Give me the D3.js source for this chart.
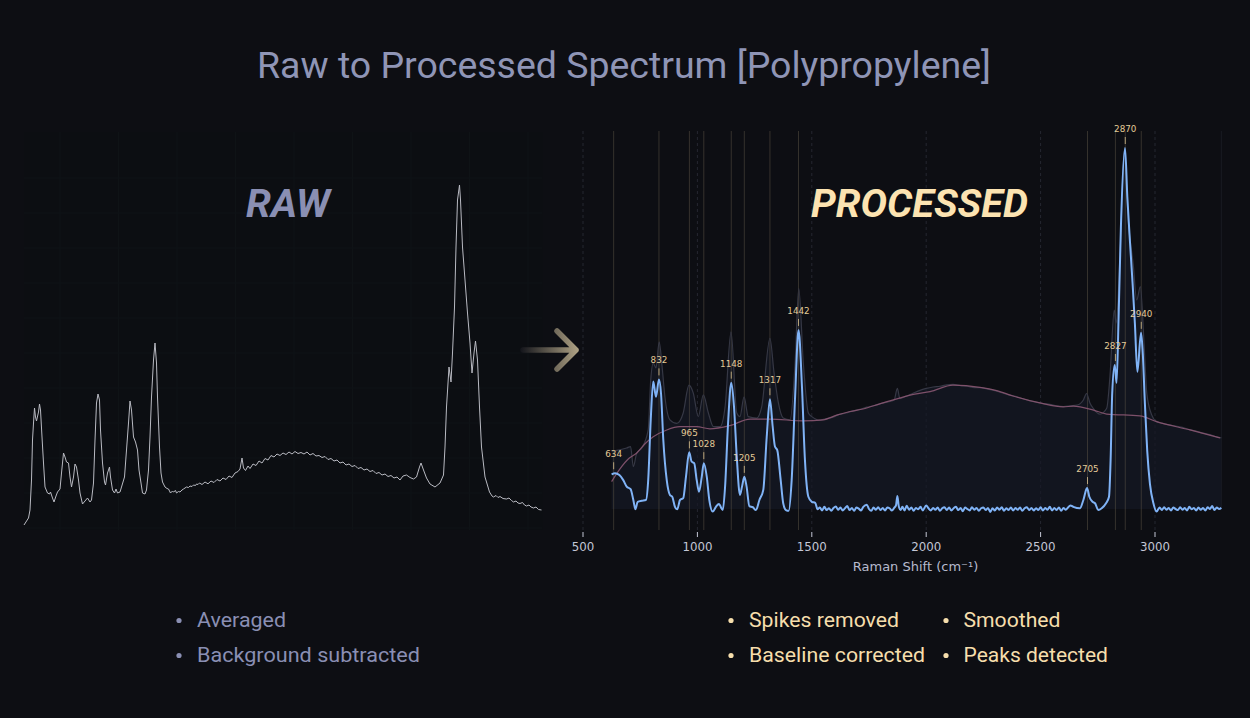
<!DOCTYPE html>
<html><head><meta charset="utf-8">
<script src="https://cdn.jsdelivr.net/npm/d3@7"></script>
<style>
html,body{margin:0;padding:0;background:#0d0e13;}
svg{display:block;}
</style></head>
<body>
<svg id="c" width="1250" height="718"></svg>
<script>
// ---------------- DATA ----------------
// Raw spectrum: [detector channel, counts]
const rawSpectrum = [
[0,50],[9,120],[12,200],[15,500],[17,900],[19,1070],[21,1220],[23,1130],[25,1090],[29,1180],[31,1260],[33,1200],[36,930],[39,670],[42,430],[47,370],[51,360],[53,380],[57,320],[60,280],[64,340],[67,380],[72,410],[75,570],[79,770],[82,730],[85,680],[89,670],[92,530],[95,430],[99,530],[102,660],[105,630],[109,500],[112,370],[117,260],[122,290],[127,320],[132,280],[135,300],[139,470],[142,900],[145,1270],[148,1360],[151,1300],[153,1000],[157,670],[161,480],[163,450],[167,570],[171,630],[173,530],[177,400],[181,370],[184,410],[187,370],[192,380],[195,430],[201,530],[205,800],[209,1070],[212,1290],[215,1200],[219,930],[223,880],[227,800],[230,600],[234,470],[237,370],[242,360],[245,400],[249,600],[252,930],[255,1330],[259,1700],[262,1870],[265,1670],[267,1330],[271,830],[274,570],[277,480],
[282,430],[286,415],[289,410],[293,370],[297,390],[299,380],[303,395],[305,370],[309,385],[312,380],[316,400],[319,410],[322,420],[325,430],[329,425],[332,440],[336,435],[339,450],[343,445],[345,460],[348,455],[351,470],
[356,455],[362,480],[368,462],[374,490],[380,475],[386,505],[392,490],[398,520],[404,505],[410,540],[416,525],[422,570],[428,585],[432,610],[436,720],[439,620],[443,595],[448,640],[452,615],[458,660],[464,645],[470,690],[476,670],[482,715],[488,700],[494,745],[500,730],[506,760],[512,745],[518,770],[524,755],[530,780],[536,760],[542,785],[548,765],[554,775],[560,760],[566,780],[572,750],[578,765],[584,740],[590,745],[596,725],[602,735],[608,705],[614,715],[620,690],[626,700],[632,670],[638,680],[644,650],[650,660],[656,635],[662,645],[668,615],[674,625],[680,600],[686,610],[692,585],[698,595],[704,565],[710,575],[716,550],[722,560],[728,535],[734,545],[740,520],[746,530],[752,500],[758,540],[765,550],[772,525],[779,510],[785,530],[791,630],[794,670],[799,600],[805,520],[812,460],[822,430],[832,470],[839,550],
[842,830],[845,1230],[850,1630],[854,1480],[857,1770],[861,2230],[864,2830],[867,3300],[871,3450],[873,3300],[877,2830],[882,2500],[887,2170],[892,1870],[896,1570],[900,1770],[903,1890],[907,1700],[911,1230],[915,830],[922,530],[931,380],
[936,340],[939,330],[944,345],[948,325],[952,335],[958,315],[965,310],[970,320],[975,295],[979,280],[984,290],[988,270],[992,265],[997,275],[1001,250],[1005,240],[1010,250],[1014,230],[1019,220],[1024,230],[1029,205],[1035,200]
];

// Processed (spikes removed, smoothed, baseline corrected, normalised): [Raman shift, intensity]
const processedSpectrum = [
[625,0.096],[640,0.099],[659,0.094],[676,0.080],[691,0.062],[708,0.055],[720,0.025],[729,-0.001],[739,0.020],[757,0.023],[775,0.025],[785,0.080],[796,0.247],[807,0.353],[819,0.311],[832,0.359],[841,0.320],[851,0.191],[866,0.080],[880,0.039],[890,0.034],[902,0.006],[912,-0.001],[924,0.025],[938,0.030],[950,0.089],[964,0.157],[975,0.131],[986,0.127],[997,0.080],[1007,0.048],[1019,0.089],[1028,0.127],[1041,0.089],[1052,0.025],[1067,-0.007],[1081,0.006],[1094,0.014],[1111,-0.003],[1121,0.062],[1134,0.237],[1148,0.350],[1160,0.283],[1172,0.145],[1186,0.039],[1195,0.062],[1205,0.089],[1215,0.062],[1227,0.008],[1242,0.005],[1256,-0.003],[1271,0.025],[1288,0.053],[1303,0.200],[1317,0.304],[1329,0.228],[1339,0.173],[1349,0.163],[1364,0.080],[1375,0.016],[1387,-0.003],[1399,-0.005],[1412,0.080],[1427,0.311],[1442,0.496],[1457,0.339],[1470,0.136],[1485,0.034],[1500,0.020],[1515,0.017],[1525,-0.001],
[1535,0.004],[1545,-0.004],[1555,0.006],[1565,-0.003],[1575,0.002],[1585,-0.005],[1595,0.003],[1605,0.007],[1615,-0.002],[1625,0.004],[1635,-0.004],[1645,0.002],[1655,0.008],[1665,-0.003],[1675,0.003],[1685,-0.005],[1695,0.004],[1705,0.001],[1715,-0.004],[1725,0.006],[1740,0.012],[1750,0.000],[1760,-0.005],[1770,0.004],[1780,-0.002],[1790,0.005],[1800,-0.003],[1810,0.003],[1820,-0.004],[1830,0.004],[1840,0.002],[1850,-0.004],[1860,0.003],[1868,0.010],[1874,0.036],[1880,0.008],[1888,-0.003],[1896,0.006],[1905,-0.004],[1915,0.009],[1925,-0.002],[1935,0.004],[1945,-0.005],[1955,0.003],[1965,-0.001],[1975,0.006],[1985,-0.004],[2000,0.010],[2010,0.002],[2020,-0.004],[2030,0.003],[2040,-0.002],[2050,0.004],[2060,-0.005],[2070,0.002],[2080,0.005],[2090,-0.003],[2100,0.004],[2110,-0.004],[2120,0.002],[2130,0.006],[2140,-0.003],[2150,0.003],[2160,-0.006],[2170,0.004],[2180,0.000],[2190,-0.004],[2200,0.005],[2210,-0.002],[2220,0.003],[2230,-0.005],[2240,0.002],[2250,0.004],[2260,-0.003],[2270,0.003],[2280,-0.008],[2290,0.002],[2300,-0.004],[2310,0.004],[2320,-0.002],[2330,0.005],[2340,-0.005],[2350,0.002],[2360,-0.003],[2370,0.004],[2380,-0.004],[2390,0.003],[2400,-0.002],[2410,0.004],[2420,-0.005],[2430,0.002],[2440,0.005],[2450,-0.003],[2460,0.003],[2470,-0.004],[2480,0.002],[2490,-0.003],[2500,0.005],[2510,-0.004],[2520,0.003],[2530,-0.002],[2540,0.006],[2550,-0.004],[2560,0.003],[2570,-0.003],[2580,0.004],[2590,-0.005],[2600,0.003],[2610,-0.002],[2620,0.004],[2630,0.010],[2643,0.006],
[2672,0.002],[2687,0.025],[2703,0.058],[2713,0.034],[2727,0.020],[2738,0.016],[2752,-0.003],[2767,0.002],[2786,0.016],[2799,0.034],[2806,0.136],[2813,0.321],[2824,0.399],[2832,0.349],[2841,0.533],[2851,0.782],[2869,1.000],[2879,0.865],[2891,0.736],[2902,0.625],[2912,0.515],[2923,0.380],[2939,0.488],[2946,0.438],[2956,0.290],[2966,0.161],[2978,0.069],[2993,0.016],[3007,-0.007],
[3020,0.004],[3030,-0.003],[3040,0.005],[3050,-0.002],[3060,0.003],[3070,-0.004],[3080,0.004],[3090,0.000],[3100,-0.003],[3110,0.005],[3120,-0.002],[3130,0.003],[3140,-0.004],[3150,0.006],[3160,-0.001],[3170,0.003],[3180,-0.004],[3190,0.004],[3200,-0.002],[3210,0.003],[3220,-0.004],[3230,0.005],[3240,0.000],[3250,0.008],[3260,-0.003],[3270,0.004],[3280,0.000],[3290,0.003]
];

// Raw overlay in the processed panel (before baseline removal): [Raman shift, intensity]
const rawOverlay = [
[625,0.159],[654,0.163],[691,0.169],[708,0.173],[720,0.117],[735,0.155],[757,0.169],[785,0.219],[796,0.357],[807,0.404],[819,0.391],[833,0.463],[845,0.399],[858,0.311],[880,0.247],[910,0.237],[938,0.266],[963,0.343],[982,0.321],[1004,0.256],[1026,0.316],[1048,0.266],[1070,0.228],[1099,0.228],[1121,0.283],[1147,0.491],[1172,0.266],[1186,0.256],[1204,0.311],[1222,0.256],[1259,0.252],[1281,0.283],[1317,0.473],[1335,0.377],[1354,0.294],[1375,0.252],[1405,0.247],[1427,0.404],[1443,0.611],[1463,0.404],[1485,0.266],[1500,0.256],[1521,0.248],
[1530,0.246],[1560,0.250],[1590,0.254],[1620,0.262],[1650,0.266],[1680,0.272],[1710,0.276],[1740,0.282],[1770,0.286],[1800,0.292],[1830,0.296],[1860,0.302],[1874,0.334],[1885,0.306],[1910,0.312],[1940,0.320],[1970,0.328],[2000,0.334],[2030,0.338],[2060,0.340],[2090,0.344],[2117,0.345],[2150,0.342],[2180,0.340],[2210,0.336],[2240,0.336],[2270,0.332],[2300,0.328],[2330,0.322],[2360,0.316],[2390,0.312],[2420,0.306],[2450,0.300],[2480,0.296],[2510,0.292],[2540,0.290],[2570,0.286],[2600,0.284],[2630,0.286],[2660,0.288],
[2687,0.302],[2701,0.320],[2716,0.293],[2730,0.279],[2760,0.263],[2789,0.279],[2803,0.366],[2822,0.551],[2830,0.515],[2848,0.717],[2866,0.994],[2883,0.800],[2905,0.676],[2920,0.579],[2936,0.616],[2952,0.460],[2964,0.321],[2986,0.260],[3007,0.242],
[3030,0.238],[3060,0.233],[3090,0.230],[3120,0.226],[3150,0.220],[3180,0.216],[3210,0.210],[3240,0.206],[3270,0.200],[3290,0.197]
];

// Estimated baseline: [Raman shift, intensity]
const baseline = [
[625,0.076],[660,0.110],[700,0.140],[735,0.155],[770,0.180],[807,0.200],[866,0.219],[924,0.228],[997,0.228],[1055,0.222],[1142,0.231],[1230,0.249],[1317,0.249],[1463,0.244],[1550,0.247],[1609,0.260],[1667,0.270],[1724,0.277],[1800,0.292],[1872,0.305],[1950,0.318],[2017,0.325],[2117,0.343],[2235,0.337],[2308,0.328],[2380,0.313],[2497,0.294],[2599,0.283],[2643,0.285],[2731,0.274],[2789,0.263],[2934,0.258],[3007,0.242],[3153,0.219],[3284,0.197]
];

// Detected peaks
const peakPositions = [634, 832, 965, 1028, 1148, 1205, 1317, 1442, 2705, 2827, 2870, 2940];
const peakHeights   = [0.099, 0.359, 0.157, 0.127, 0.350, 0.089, 0.304, 0.496, 0.058, 0.399, 1.000, 0.488];

const xTicks = [500, 1000, 1500, 2000, 2500, 3000];
const rawGridChannels = [72, 189, 306, 423, 540, 657, 774, 891, 1008];
const rawGridCounts = [0, 350, 700, 1050, 1400, 1750, 2100, 2450, 2800, 3150, 3500];

const titleText = "Raw to Processed Spectrum [Polypropylene]";
const rawSteps = ["Averaged", "Background subtracted"];
const procStepsCol1 = ["Spikes removed", "Baseline corrected"];
const procStepsCol2 = ["Smoothed", "Peaks detected"];

// ---------------- DRAW ----------------
const svg = d3.select("#c");
const W = 1250, H = 718;
const condensed = "Roboto, 'Open Sans', 'DejaVu Sans', sans-serif";
const mono = "'DejaVu Sans', sans-serif";

svg.append("rect").attr("width", W).attr("height", H).attr("fill", "#0d0e13");

const defs = svg.append("defs");

function fitText(sel, w) {
  sel.attr("textLength", w).attr("lengthAdjust", "spacingAndGlyphs");
  return sel;
}

// Title
fitText(svg.append("text").attr("x", 257).attr("y", 78).attr("fill", "#8f95b6")
  .attr("font-family", condensed).attr("font-size", 36).attr("font-weight", 400)
  .text(titleText), 734);

// ---- RAW panel ----
const xR = d3.scaleLinear().domain([0, 1036]).range([24, 542]);
const yR = d3.scaleLinear().domain([0, 3500]).range([530, 180]);

const rawG = svg.append("g");
rawG.append("rect").attr("x", xR(0)).attr("y", 132).attr("width", xR(1036) - xR(0) + 1).attr("height", 398)
  .attr("fill", "#0c0e12");
rawG.selectAll("line.gv").data(rawGridChannels).join("line")
  .attr("x1", d => xR(d)).attr("x2", d => xR(d)).attr("y1", 132).attr("y2", 530)
  .attr("stroke", "#0f1316").attr("stroke-width", 1);
rawG.selectAll("line.gh").data(rawGridCounts).join("line")
  .attr("x1", xR(0)).attr("x2", xR(1036)).attr("y1", d => yR(d) - 2).attr("y2", d => yR(d) - 2)
  .attr("stroke", "#0f1316").attr("stroke-width", 1);

rawG.append("path").datum(rawSpectrum)
  .attr("d", d3.line().x(d => xR(d[0])).y(d => yR(d[1])))
  .attr("fill", "none").attr("stroke", "#b9bac2").attr("stroke-width", 1).attr("stroke-linejoin", "round");

fitText(svg.append("text").attr("x", 246).attr("y", 217).attr("fill", "#8a8fb3")
  .attr("font-family", condensed).attr("font-size", 38).attr("font-weight", 700).attr("font-style", "italic")
  .text("RAW"), 84);

// ---- Arrow ----
const grad = defs.append("linearGradient").attr("id", "ag").attr("gradientUnits", "userSpaceOnUse")
  .attr("x1", 521).attr("x2", 579).attr("y1", 0).attr("y2", 0);
grad.append("stop").attr("offset", 0).attr("stop-color", "#15161c");
grad.append("stop").attr("offset", 1).attr("stop-color", "#b1a486");
svg.append("path").attr("d", "M523,350 L576,350 M557,331 L576,350 L557,369")
  .attr("fill", "none").attr("stroke", "url(#ag)").attr("stroke-width", 5.5)
  .attr("stroke-linecap", "round").attr("stroke-linejoin", "round");

// ---- PROCESSED panel ----
const xP = d3.scaleLinear().domain([500, 3000]).range([583, 1155]);
const yP = d3.scaleLinear().domain([0, 1]).range([509, 148]);
const topY = 131, botY = 530;

const pG = svg.append("g");
// dashed grid at ticks
pG.selectAll("line.grid").data(xTicks).join("line")
  .attr("x1", d => xP(d)).attr("x2", d => xP(d)).attr("y1", topY).attr("y2", botY)
  .attr("stroke", "#252731").attr("stroke-width", 1).attr("stroke-dasharray", "3,3");

// fill under raw overlay
pG.append("path").datum(rawOverlay)
  .attr("d", d3.area().x(d => xP(d[0])).y0(yP(0)).y1(d => yP(d[1])).curve(d3.curveMonotoneX))
  .attr("fill", "#161825").attr("fill-opacity", 0.7);
pG.append("line").attr("x1", xP(3290)).attr("x2", xP(3290)).attr("y1", topY).attr("y2", yP(0))
  .attr("stroke", "#181a23").attr("stroke-width", 1);

// peak lines
pG.selectAll("line.peak").data(peakPositions).join("line")
  .attr("x1", d => xP(d)).attr("x2", d => xP(d)).attr("y1", topY).attr("y2", botY)
  .attr("stroke", "#5e5548").attr("stroke-opacity", 0.5).attr("stroke-width", 1);

// raw overlay line
pG.append("path").datum(rawOverlay)
  .attr("d", d3.line().x(d => xP(d[0])).y(d => yP(d[1])).curve(d3.curveMonotoneX))
  .attr("fill", "none").attr("stroke", "#363845").attr("stroke-width", 1.2);

// baseline
pG.append("path").datum(baseline)
  .attr("d", d3.line().x(d => xP(d[0])).y(d => yP(d[1])).curve(d3.curveMonotoneX))
  .attr("fill", "none").attr("stroke", "#8a5672").attr("stroke-width", 1.2).attr("stroke-opacity", 0.9);

// processed line
pG.append("path").datum(processedSpectrum)
  .attr("d", d3.line().x(d => xP(d[0])).y(d => yP(d[1])).curve(d3.curveMonotoneX))
  .attr("fill", "none").attr("stroke", "#80b3f6").attr("stroke-width", 2).attr("stroke-linejoin", "round");

// peak markers + labels
const pk = peakPositions.map((p, i) => ({p, h: peakHeights[i]}));
pG.selectAll("line.pm").data(pk).join("line")
  .attr("x1", d => xP(d.p)).attr("x2", d => xP(d.p))
  .attr("y1", d => yP(d.h) - 11).attr("y2", d => yP(d.h) - 4)
  .attr("stroke", "#d9c28f").attr("stroke-width", 1).attr("stroke-opacity", 0.8);
pG.selectAll("text.pl").data(pk).join("text")
  .attr("x", d => xP(d.p)).attr("y", d => yP(d.h) - 16)
  .attr("text-anchor", "middle").attr("fill", "#e3cb98")
  .attr("font-family", mono).attr("font-size", 8.8)
  .text(d => d.p);

// axis
const axG = pG.append("g");
axG.selectAll("line.tk").data(xTicks).join("line")
  .attr("x1", d => xP(d)).attr("x2", d => xP(d)).attr("y1", 532).attr("y2", 537)
  .attr("stroke", "#c4c7d6").attr("stroke-width", 1);
axG.selectAll("text.tl").data(xTicks).join("text")
  .attr("x", d => xP(d)).attr("y", 551).attr("text-anchor", "middle")
  .attr("fill", "#c4c7d6").attr("font-family", mono).attr("font-size", 11.8)
  .text(d => d);
axG.append("text").attr("x", 915.5).attr("y", 570.5).attr("text-anchor", "middle")
  .attr("fill", "#b6bacd").attr("font-family", mono).attr("font-size", 13)
  .text("Raman Shift (cm⁻¹)");

fitText(svg.append("text").attr("x", 811).attr("y", 217).attr("fill", "#fce3b1")
  .attr("font-family", condensed).attr("font-size", 38).attr("font-weight", 700).attr("font-style", "italic")
  .text("PROCESSED"), 217);

// ---- step bullets ----
function bullets(items, bx, tx, widths, color) {
  items.forEach((t, i) => {
    const y = 627 + i * 35;
    svg.append("circle").attr("cx", bx).attr("cy", y - 6.5).attr("r", 2.6).attr("fill", color);
    fitText(svg.append("text").attr("x", tx).attr("y", y).attr("fill", color)
      .attr("font-family", condensed).attr("font-size", 21).attr("font-weight", 400).text(t), widths[i]);
  });
}
bullets(rawSteps, 179, 197, [89, 223], "#8a8fb3");
bullets(procStepsCol1, 731, 749, [150, 176], "#f6deac");
bullets(procStepsCol2, 946, 963.5, [97, 144.5], "#f6deac");
</script>
</body></html>
